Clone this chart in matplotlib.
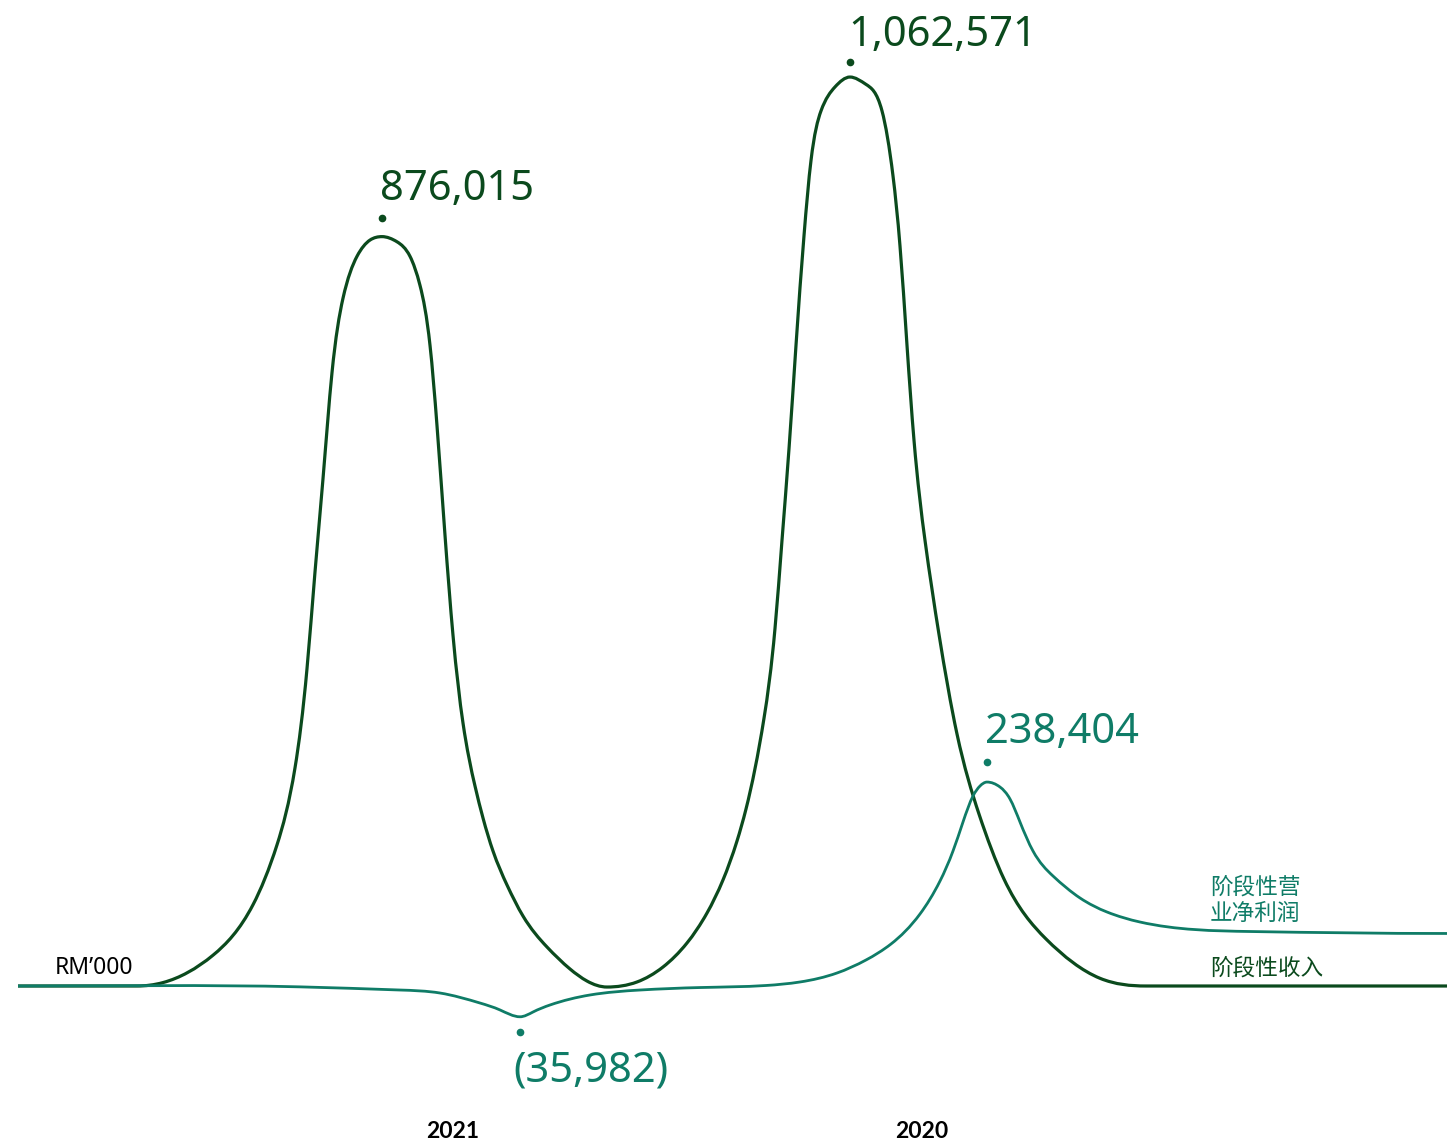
import numpy as np
import matplotlib
matplotlib.use("Agg")
import matplotlib.pyplot as plt
from matplotlib.path import Path
from matplotlib.patches import PathPatch
from matplotlib.transforms import offset_copy

# 阶段性收入 (RM'000) - knot positions
rev_x = [18, 137, 163, 213, 253, 277, 295, 307, 315, 323, 332, 343, 357, 370, 382,
         397, 410, 420, 430, 437, 445, 453, 463, 475, 483, 493, 507, 523, 547, 570, 587, 607,
         637, 663, 687, 707, 723, 737, 746, 764, 775, 782, 789, 796, 804, 811, 821, 835, 850,
         866, 882, 893, 900, 907, 914, 925, 939, 957, 979, 1004, 1046, 1100, 1146, 1447]
rev_v = [0, 0, 4000, 36000, 95000, 165000, 255000, 371000, 484000, 593000, 717000, 804000, 853000, 872000, 876015,
         870000, 853000, 819000, 749000, 655000, 527000, 410000, 307400, 233800, 196400, 157800, 118100, 81800,
         45600, 19900, 5800, -1200,
         4700, 22200, 50300, 85300, 124000, 169500, 206900, 313000, 418000, 521000, 628000, 749000, 877000,
         965000, 1023000, 1051000, 1062571,
         1054000, 1023000, 947000, 865000, 749000, 638000, 521000, 411000, 294600, 201000, 125000, 55000, 9000, 0, 0]
rev_turns = [18, 137, 382, 607, 850, 1146, 1447]

# 阶段性营业净利润 (RM'000)
prof_x = [18, 300, 400, 440, 480, 500, 520, 533, 550, 590, 640, 700, 766, 800, 837, 866, 891, 920, 940, 953, 963,
          973, 980, 987, 1000, 1010, 1020, 1033, 1053, 1080, 1107, 1140, 1250, 1447]
prof_v = [0, -1000, -4700, -8200, -19900, -28000, -35982, -30400, -22200, -10500, -4700, -1800, 600,
          4700, 15200, 30400, 49100, 84200, 122700, 157800, 191700, 222100, 233800, 238404,
          232600, 218600, 191700, 157800, 128600, 102900, 86500, 74800, 63700, 61400]
prof_turns = [18, 520, 987, 1447]

# labelled points
rev_label_x = [382, 850]
rev_label_v = [876015, 1062571]
prof_label_x = [520, 987]
prof_label_v = [-35982, 238404]

years = ["2021", "2020"]
year_x = [453, 922]

dark = "#0b4a1d"
teal = "#0f7c67"

SCALE = 1169  # RM'000 per pixel
BASE = 986


def px2v(ypix):
    return (BASE - ypix) * SCALE


def smooth_path(x, y, turns):
    # cubic spline, flat tangent at the turning points, drawn as bezier segments
    x = np.asarray(x, float)
    y = np.asarray(y, float)
    h = np.diff(x)
    delta = np.diff(y) / h
    d = np.zeros_like(y)
    idx = [int(np.where(x == t)[0][0]) for t in turns]
    for a, b in zip(idx[:-1], idx[1:]):
        n = b - a - 1
        if n <= 0:
            continue
        A = np.zeros((n, n))
        r = np.zeros(n)
        for i in range(n):
            k = a + 1 + i
            hl, hr = h[k - 1], h[k]
            A[i, i] = 2 * (hl + hr)
            if i > 0:
                A[i, i - 1] = hr
            if i < n - 1:
                A[i, i + 1] = hl
            r[i] = 3 * (hr * delta[k - 1] + hl * delta[k])
        d[a + 1:b] = np.linalg.solve(A, r)
    verts = [(x[0], y[0])]
    codes = [Path.MOVETO]
    for k in range(len(x) - 1):
        verts += [(x[k] + h[k] / 3, y[k] + d[k] * h[k] / 3),
                  (x[k + 1] - h[k] / 3, y[k + 1] - d[k + 1] * h[k] / 3),
                  (x[k + 1], y[k + 1])]
        codes += [Path.CURVE4] * 3
    return Path(verts, codes)


fig = plt.figure(figsize=(14.47, 11.48), dpi=100)
ax = fig.add_axes([0, 0, 1, 1])
ax.set_xlim(0, 1447)
ax.set_ylim(px2v(1148), px2v(0))
ax.axis("off")

ax.add_patch(PathPatch(smooth_path(rev_x, rev_v, rev_turns), fill=False, edgecolor=dark, lw=2.3,
                       capstyle="butt", zorder=2))
ax.add_patch(PathPatch(smooth_path(prof_x, prof_v, prof_turns), fill=False, edgecolor=teal, lw=2.0,
                       capstyle="butt", zorder=3))

num_font = "Noto Sans"

# (dot offset, text baseline offset) in pixels from the point
rev_offs = [(19, 37), (15, 31)]
prof_offs = [(-15, -65), (20, 39)]

for (x, v), (dy, ty) in zip(zip(rev_label_x, rev_label_v), rev_offs):
    ax.plot(x, v, "o", color=dark, ms=4.5, zorder=4,
            transform=offset_copy(ax.transData, fig=fig, y=dy, units="dots"))
    ax.annotate(f"{v:,}", xy=(x, v), xytext=(-2 * 0.72, ty * 0.72), textcoords="offset points",
                ha="left", va="baseline", fontsize=30, color=dark, family=num_font)

for (x, v), (dy, ty) in zip(zip(prof_label_x, prof_label_v), prof_offs):
    txt = f"({-v:,})" if v < 0 else f"{v:,}"
    dx = -7 if v < 0 else -2
    ax.plot(x, v, "o", color=teal, ms=4.5, zorder=4,
            transform=offset_copy(ax.transData, fig=fig, y=dy, units="dots"))
    ax.annotate(txt, xy=(x, v), xytext=(dx * 0.72, ty * 0.72), textcoords="offset points",
                ha="left", va="baseline", fontsize=30, color=teal, family=num_font)

cjk = ["Noto Sans CJK SC", "DejaVu Sans"]
ax.text(1210, px2v(900), "阶段性营\n业净利润", color=teal, fontsize=16.3, family=cjk,
        ha="left", va="center", linespacing=1.2)
ax.text(1210, px2v(968), "阶段性收入", color=dark, fontsize=16.3, family=cjk,
        ha="left", va="center")
ax.text(55, px2v(968), "RM\u2019000", color="black", fontsize=16.5, family=num_font,
        ha="left", va="center")

xt = ax.get_xaxis_transform()
for x, lab in zip(year_x, years):
    ax.text(x, 1 - 1131 / 1148, lab, transform=xt, ha="center", va="center",
            fontsize=16.5, fontweight="bold", family=["Lato", "DejaVu Sans"], color="black")

fig.savefig("out.png", dpi=100, facecolor="white")
